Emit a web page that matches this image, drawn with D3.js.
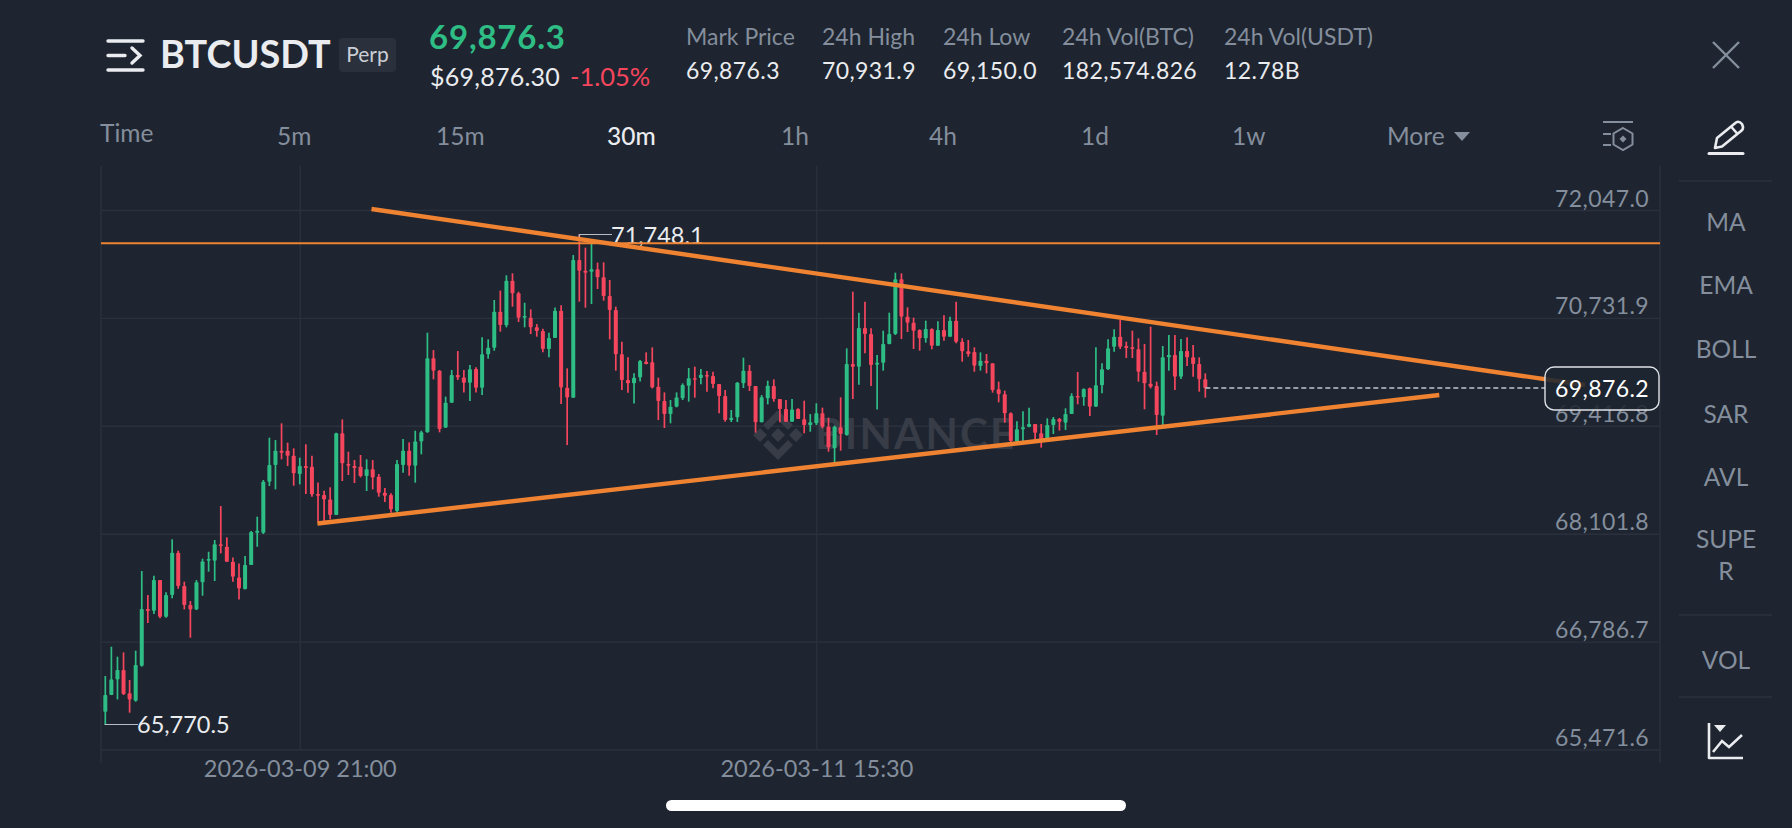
<!DOCTYPE html>
<html>
<head>
<meta charset="utf-8">
<title>BTCUSDT Perp</title>
<script src="https://cdn.jsdelivr.net/npm/d3@7"></script>
<style>
  html, body { margin: 0; padding: 0; background: #1e2530; overflow: hidden; }
  svg { display: block; }
  text { font-family: Lato, "Open Sans", sans-serif; }
</style>
</head>
<body>
<div id="chart"></div>
<script>
// candles, 30m each
const opens = [
  65932,66135,66326,66440,66156,66066,66493,67183,67163,67537,
  67090,67354,67870,67464,67232,67179,67509,67773,67773,67972,
  67943,67760,67569,67427,67720,68114,68114,68736,68939,69113,
  69113,69052,68829,68927,68918,68585,68573,68520,68329,69325,
  68951,68927,68918,68805,68886,68796,68601,68574,68379,68939,
  69113,68931,69227,69337,70239,70089,69394,69698,70036,70007,
  69942,70109,69881,70288,70369,70808,70641,71186,71031,70735,
  70735,70617,70572,70353,70487,70820,69881,69759,71437,71307,
  71295,71324,71226,70999,70828,70288,69975,69934,70007,70198,
  70190,69893,69719,69560,69650,69752,69906,69995,69999,70036,
  70024,69926,69780,69487,69520,69934,70089,69902,69459,69752,
  69902,69743,69621,69467,69621,69496,69426,69447,69569,69406,
  69142,69398,69305,70170,70137,70609,70536,70162,70186,70414,
  70536,71202,70747,70674,70584,70483,70597,70393,70584,70503,
  70698,70442,70324,70316,70146,70211,70178,69861,69800,69569,
  69223,69374,69406,69439,69325,69252,69427,69500,69455,69561,
  69780,69764,69873,69650,69910,70105,70381,70503,70390,70373,
  70349,70077,69930,69902,69540,70251,70280,70016,70329,70251,
  70170,69983
];
const highs = [
  66367,66724,66603,66655,66318,66676,67647,67354,67590,67537,
  67387,68033,67895,67517,67281,67537,67797,67882,68025,68439,
  68057,67813,67740,67829,68134,68309,68756,69272,69243,69447,
  69211,69142,69028,69191,69052,68727,68626,68667,69333,69495,
  69101,68999,69061,69008,68999,68829,68658,68594,69000,69256,
  69215,69357,69357,70552,70340,70097,69772,70097,70328,70097,
  70158,70129,70495,70470,70950,71064,71251,71275,71051,70917,
  70836,70657,70600,70552,70860,70885,70117,71498,71748.1,71588,
  71681,71405,71409,71194,70869,70442,70251,70056,70219,70312,
  70373,70003,69824,69731,69824,69934,70121,70137,70109,70085,
  70077,69926,69853,69609,69951,70247,70158,69902,69792,69967,
  69983,69743,69731,69743,69630,69723,69560,69691,69638,69516,
  69418,69764,70361,71052,70796,70930,70605,70280,70576,70796,
  71283,71275,70861,70735,70592,70698,70605,70690,70763,70747,
  70930,70483,70463,70373,70312,70292,70178,69955,69845,69581,
  69471,69593,69638,69439,69439,69508,69524,69512,69630,69813,
  70073,69873,69882,70373,70178,70471,70593,70706,70442,70576,
  70483,70414,70625,69955,70390,70524,70524,70475,70495,70402,
  70251,70056
];
const lows = [
  65770.5,66135,66082,66135,65920,66054,66481,67013,67123,67070,
  67078,67314,67431,67179,66834,67171,67346,67639,67525,67862,
  67760,67517,67301,67423,67720,67943,68098,68683,68642,69008,
  68927,68687,68703,68585,68553,68248,68207,68276,68329,68744,
  68817,68719,68788,68622,68642,68553,68488,68358,68358,68845,
  68809,68724,69069,69333,69983,69337,69394,69698,69975,69824,
  69719,69824,69792,70235,70332,70564,70617,70869,70682,70617,
  70535,70503,70312,70251,70487,69682,69182,69759,70930,70856,
  70901,71084,70942,70470,70089,69853,69820,69690,69958,70166,
  69873,69487,69390,69447,69642,69731,69711,69760,69922,69833,
  69873,69569,69467,69463,69463,69877,69841,69333,69459,69678,
  69711,69459,69467,69467,69500,69325,69345,69426,69386,69101,
  68971,69114,69296,69743,69918,70300,69902,69617,70089,70410,
  70523,70475,70560,70353,70333,70430,70349,70393,70454,70503,
  70422,70198,70259,70076,70089,70056,69821,69703,69455,69203,
  69215,69227,69398,69236,69150,69244,69317,69358,69366,69561,
  69679,69662,69536,69650,69813,70097,70320,70353,70243,70243,
  69955,69618,69873,69305,69427,70089,69853,69987,70146,70016,
  69833,69760
];
const closes = [
  66135,66326,66440,66147,66082,66501,67183,67159,67537,67090,
  67354,67870,67464,67232,67179,67509,67764,67793,67972,67951,
  67760,67578,67435,67720,68122,68138,68736,68939,69113,69089,
  69052,68837,68927,68902,68581,68565,68520,68329,69325,68959,
  68931,68902,68805,68886,68788,68601,68565,68399,68951,69113,
  68931,69227,69337,70239,70089,69377,69698,70036,70007,69942,
  70105,69881,70288,70369,70808,70645,71186,71031,70735,70755,
  70617,70572,70353,70487,70820,69885,69763,71437,71307,71283,
  71324,71226,70999,70828,70288,69975,69934,70003,70206,70170,
  69885,69719,69560,69650,69763,69914,69995,69983,70040,70016,
  69926,69780,69487,69516,69942,70089,69902,69459,69764,69906,
  69743,69621,69467,69617,69500,69426,69459,69569,69406,69154,
  69406,69317,70170,70137,70609,70536,70158,70186,70414,70536,
  71202,70747,70674,70576,70483,70597,70393,70584,70503,70698,
  70442,70324,70292,70150,70211,70178,69853,69804,69569,69232,
  69374,69398,69439,69333,69223,69427,69500,69467,69561,69780,
  69764,69865,69650,69910,70105,70361,70503,70381,70365,70353,
  70077,69934,69894,69548,70251,70280,70016,70329,70251,70170,
  69983,69876.2
];

const priceTicks = [72047.0, 70731.9, 69416.8, 68101.8, 66786.7, 65471.6];
const timeTicks = [32, 117];
const timeLabels = ["2026-03-09 21:00", "2026-03-11 15:30"];

// hand drawn lines on the chart: [candle index, price]
const upperTrend = [[43.8, 72059], [243.5, 69914]];
const lowerTrend = [[34.9, 68226], [219.5, 69792]];
const resistance = 71641;
const lastPrice = 69876.2;
const highMark = 71748.1;
const lowMark = 65770.5;

const symbol = "BTCUSDT";
const tabs = ["5m", "15m", "30m", "1h", "4h", "1d", "1w"];
const tabX = [277, 436, 607, 781, 929, 1081, 1232];
const statNames = ["Mark Price", "24h High", "24h Low", "24h Vol(BTC)", "24h Vol(USDT)"];
const statValues = ["69,876.3", "70,931.9", "69,150.0", "182,574.826", "12.78B"];
const statX = [686, 822, 943, 1062, 1224];
const indicators = ["MA", "EMA", "BOLL", "SAR", "AVL", "SUPE", "R", "VOL"];
const indicatorY = [231, 294, 358, 423, 486, 548, 580, 669];

const GREEN = "#2ebd85", RED = "#f6465d", ORANGE = "#ef8332";
const GREY = "#848e9c", WHITE = "#eaecef", GRID = "#2b313c";

const width = 1792, height = 828;
const plotLeft = 101, plotRight = 1660, plotTop = 166;

const svg = d3.select("#chart").append("svg")
  .attr("width", width)
  .attr("height", height);

svg.append("rect").attr("width", width).attr("height", height).attr("fill", "#1e2530");

const xScale = d3.scaleLinear().domain([0, 181]).range([105.3, 1205.3]);
const yScale = d3.scaleLinear().domain([65471.6, 72047.0]).range([749.5, 210]);
const plotBottom = yScale(65471.6);

function label(parent, x, y, str, size, color, anchor, weight) {
  return parent.append("text")
    .attr("x", x).attr("y", y)
    .attr("font-size", size)
    .attr("fill", color)
    .attr("text-anchor", anchor || "start")
    .attr("font-weight", weight || 400)
    .text(str);
}

// header
const header = svg.append("g");
header.append("path")
  .attr("d", "M108,41H143 M108,70H143 M108,55.5H125 M132,48L140,55.5L132,63")
  .attr("fill", "none").attr("stroke", WHITE).attr("stroke-width", 3.4).attr("stroke-linecap", "round");
label(header, 160, 68, symbol, 37.8, WHITE, "start", 700);
header.append("rect").attr("x", 339).attr("y", 38).attr("width", 57).attr("height", 34).attr("rx", 4).attr("fill", "#2b313c");
label(header, 367.5, 62, "Perp", 21, "#c9ced6", "middle");
label(header, 429, 49, "69,876.3", 33, GREEN, "start", 700).style("letter-spacing", "0.8px");
label(header, 430, 86, "$69,876.30", 25, WHITE).style("letter-spacing", "0.25px");
label(header, 570, 86, "-1.05%", 25.5, RED);
statNames.forEach((s, i) => label(header, statX[i], 45, s, 23, GREY));
statValues.forEach((s, i) => label(header, statX[i], 79, s, 23, WHITE).style("letter-spacing", "0.4px"));
header.append("path")
  .attr("d", "M1713,42L1739,68 M1739,42L1713,68")
  .attr("fill", "none").attr("stroke", GREY).attr("stroke-width", 2.4);

// timeframe row
const tabRow = svg.append("g");
label(tabRow, 100, 142, "Time", 24.5, GREY);
tabs.forEach((t, i) => label(tabRow, tabX[i], 145, t, 24.5, t === "30m" ? WHITE : GREY, "start", t === "30m" ? 500 : 400));
label(tabRow, 1387, 145, "More", 24.5, GREY);
tabRow.append("path").attr("d", "M1454,132H1470L1462,141Z").attr("fill", GREY);
tabRow.append("path")
  .attr("d", "M1603,122H1633 M1603,134H1611 M1603,145H1611")
  .attr("fill", "none").attr("stroke", GREY).attr("stroke-width", 2);
tabRow.append("path")
  .attr("d", "M1623,128L1632.5,133.5V144.5L1623,150L1613.5,144.5V133.5Z")
  .attr("fill", "none").attr("stroke", GREY).attr("stroke-width", 2);
tabRow.append("path").attr("d", "M1623,135.5L1626.5,139L1623,142.5L1619.5,139Z").attr("fill", GREY);

// grid, price labels and date labels come from the axes
const gridG = svg.append("g")
  .attr("transform", "translate(" + plotRight + ",0)")
  .call(d3.axisLeft(yScale).tickValues(priceTicks).tickSize(plotRight - plotLeft).tickFormat(""));
gridG.select(".domain").remove();
gridG.selectAll("line").attr("stroke", GRID).attr("stroke-width", 1.4);

const priceAxis = svg.append("g")
  .attr("transform", "translate(" + plotRight + ",0)")
  .call(d3.axisLeft(yScale).tickValues(priceTicks).tickSize(0).tickFormat(d3.format(",.1f")));
priceAxis.select(".domain").remove();
priceAxis.selectAll("text")
  .attr("x", -11).attr("dy", 0).attr("y", -4)
  .attr("font-size", 23).attr("fill", GREY)
  .style("letter-spacing", "0.4px");

const timeAxis = svg.append("g")
  .attr("transform", "translate(0," + plotBottom + ")")
  .call(d3.axisBottom(xScale).tickValues(timeTicks).tickSize(plotBottom - plotTop)
    .tickFormat((d, i) => timeLabels[i]));
timeAxis.select(".domain").remove();
timeAxis.selectAll("line").attr("y2", plotTop - plotBottom).attr("stroke", GRID).attr("stroke-width", 1.4);
timeAxis.selectAll("text")
  .attr("y", 27).attr("dy", 0)
  .attr("font-size", 23.5).attr("fill", GREY);

svg.append("path")
  .attr("d", "M" + plotLeft + "," + plotTop + "V763 M" + plotRight + "," + plotTop + "V763")
  .attr("stroke", GRID).attr("stroke-width", 1.4);

// watermark sits behind the candles
const mark = svg.append("g").attr("transform", "translate(778,435)").attr("fill", "#373c47");
mark.append("path").attr("d",
  "M0,-7L7,0L0,7L-7,0Z " +
  "M-18,-7L-11,0L-18,7L-25,0Z M18,-7L25,0L18,7L11,0Z " +
  "M0,-25L15,-10L10,-5L0,-15L-10,-5L-15,-10Z " +
  "M0,25L15,10L10,5L0,15L-10,5L-15,10Z");
label(mark, 37, 14, "BINANCE", 42, "#373c47", "start", 700).style("letter-spacing", "2.2px");

// candles
const candles = opens.map((o, i) => ({ index: i, open: o, high: highs[i], low: lows[i], close: closes[i] }));
const candleG = svg.selectAll(".candle")
  .data(candles)
  .join("g")
  .attr("class", "candle")
  .attr("stroke", d => d.close >= d.open ? GREEN : RED)
  .attr("fill", d => d.close >= d.open ? GREEN : RED);
candleG.append("line")
  .attr("x1", d => xScale(d.index)).attr("x2", d => xScale(d.index))
  .attr("y1", d => yScale(d.high)).attr("y2", d => yScale(d.low))
  .attr("stroke-width", 1.7);
candleG.append("rect")
  .attr("x", d => xScale(d.index) - 2)
  .attr("width", 4)
  .attr("y", d => yScale(Math.max(d.open, d.close)))
  .attr("height", d => Math.max(1.4, Math.abs(yScale(d.open) - yScale(d.close))))
  .attr("rx", 0.8)
  .attr("stroke", "none");

// high and low markers
const marks = svg.append("g");
marks.append("path")
  .attr("d", "M" + xScale(78) + "," + (yScale(highMark) + 3) + "V" + yScale(highMark) + "H612")
  .attr("fill", "none").attr("stroke", "#b7bdc6").attr("stroke-width", 1.2);
label(marks, 611, yScale(highMark) + 9, d3.format(",.1f")(highMark), 23.5, WHITE);
marks.append("path")
  .attr("d", "M" + xScale(0) + "," + yScale(lowMark) + "V724.5H138")
  .attr("fill", "none").attr("stroke", "#b7bdc6").attr("stroke-width", 1.2);
label(marks, 137, 733, d3.format(",.1f")(lowMark), 23.5, WHITE);

// drawn lines
const trendLine = d3.line().x(d => xScale(d[0])).y(d => yScale(d[1]));
svg.append("line")
  .attr("x1", plotLeft).attr("x2", plotRight)
  .attr("y1", yScale(resistance)).attr("y2", yScale(resistance))
  .attr("stroke", ORANGE).attr("stroke-width", 2);
[upperTrend, lowerTrend].forEach(t => {
  svg.append("path")
    .attr("d", trendLine(t))
    .attr("fill", "none").attr("stroke", ORANGE).attr("stroke-width", 4.4);
});

// last price
svg.append("line")
  .attr("x1", xScale(181)).attr("x2", 1545)
  .attr("y1", yScale(lastPrice)).attr("y2", yScale(lastPrice))
  .attr("stroke", "#c2c7cf").attr("stroke-width", 1.5).attr("stroke-dasharray", "5,3");
svg.append("rect")
  .attr("x", 1545).attr("y", 367).attr("width", 114).attr("height", 43).attr("rx", 9)
  .attr("fill", "#1e2530").attr("fill-opacity", 0.88)
  .attr("stroke", "#dfe2e6").attr("stroke-width", 1.4);
label(svg, 1649, 397, d3.format(",.1f")(lastPrice), 23, "#ffffff", "end").style("letter-spacing", "0.4px");

// right toolbar
const side = svg.append("g");
side.append("path")
  .attr("d", "M1709,153.5H1743")
  .attr("stroke", WHITE).attr("stroke-width", 3).attr("stroke-linecap", "round");
side.append("path")
  .attr("d", "M1715,148L1717,138L1736,122.5Q1739,120.5 1742,124L1743,127Q1743,130 1741,131L1722,146.5Z M1731,126.5L1738,134.5")
  .attr("fill", "none").attr("stroke", WHITE).attr("stroke-width", 2.6).attr("stroke-linejoin", "round");
side.append("path")
  .attr("d", "M1679,181H1772 M1679,615H1772 M1679,697H1772")
  .attr("stroke", GRID).attr("stroke-width", 1.6);
indicators.forEach((s, i) => label(side, 1726, indicatorY[i], s, 24.5, GREY, "middle"));
side.append("path")
  .attr("d", "M1709,723V758H1743")
  .attr("fill", "none").attr("stroke", WHITE).attr("stroke-width", 2.6).attr("stroke-linejoin", "round");
side.append("path")
  .attr("d", "M1713,752L1722,741L1729,747L1742,735")
  .attr("fill", "none").attr("stroke", WHITE).attr("stroke-width", 2.6);
side.append("path").attr("d", "M1714,725H1726L1720,732Z").attr("fill", WHITE);

// home indicator
svg.append("rect")
  .attr("x", 666).attr("y", 800).attr("width", 460).attr("height", 11).attr("rx", 5.5)
  .attr("fill", "#ffffff");
</script>
</body>
</html>
